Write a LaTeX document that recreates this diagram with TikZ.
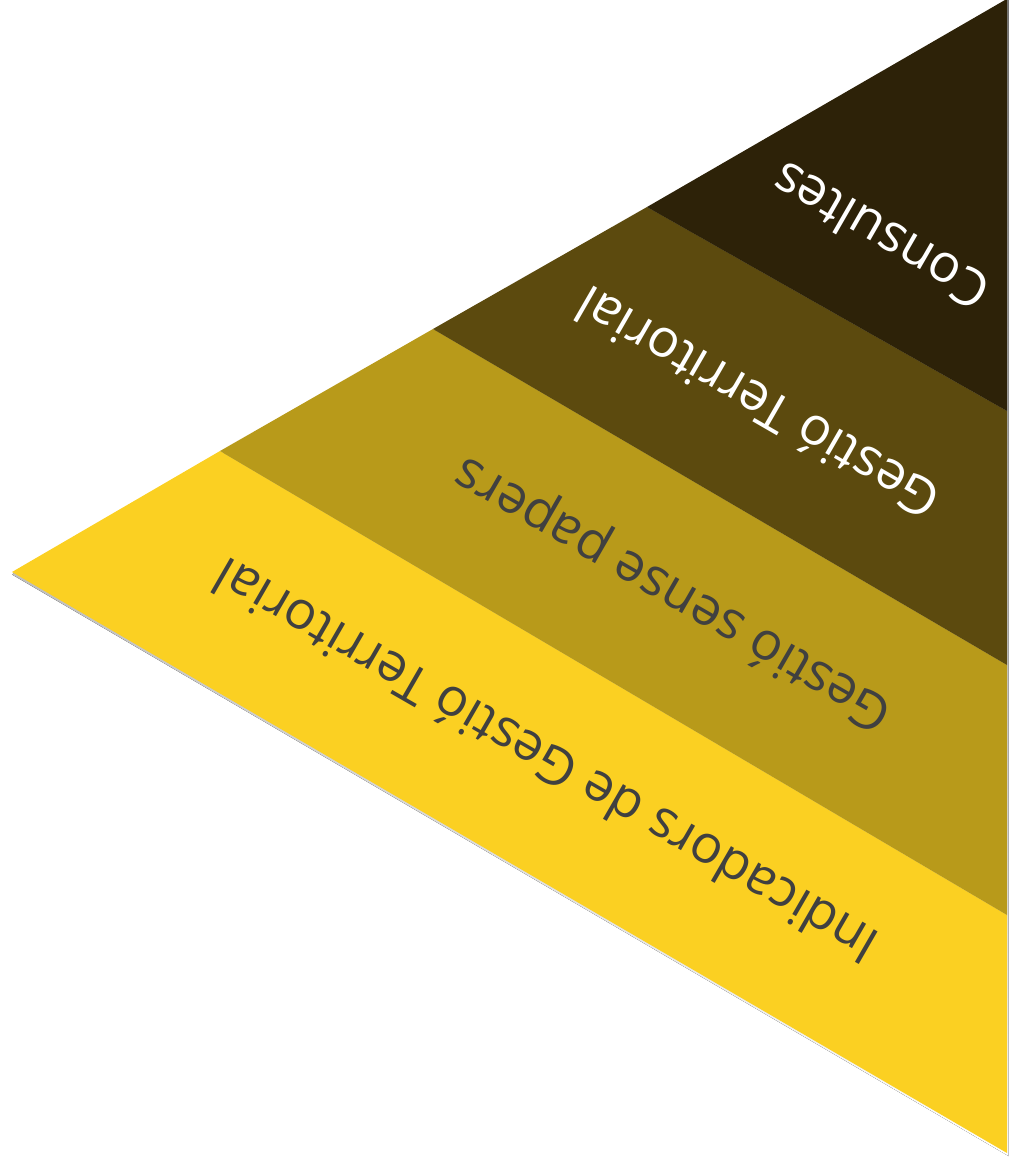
\documentclass[tikz,border=0pt]{standalone}
\usepackage{fontspec}
\setmainfont{Open Sans}
\usepackage{tikz}
\definecolor{bandA}{RGB}{251,208,34}
\definecolor{bandB}{RGB}{184,154,26}
\definecolor{bandC}{RGB}{92,74,14}
\definecolor{bandD}{RGB}{45,34,8}
\definecolor{ink}{RGB}{64,64,64}
\definecolor{shade}{RGB}{165,165,165}
\tikzset{
  band/.style={draw=none},
  lbl/.style={font=\fontsize{30}{36}\selectfont,rotate=150,inner sep=0pt},
}

\begin{document}
\begin{tikzpicture}[x=0.02cm,y=-0.02cm]
  \useasboundingbox (0,0) rectangle (1009,1164);
  % corners and band edges
  \coordinate (apex) at (12,572);
  \coordinate (top) at (1005,0);
  \coordinate (topR) at (1007,0);
  \coordinate (bot) at (1007,1153);
  \coordinate (p1) at (220,451);
  \coordinate (p2) at (433,329);
  \coordinate (p3) at (647,207);
  \coordinate (q1) at (1007,915);
  \coordinate (q2) at (1007,665);
  \coordinate (q3) at (1007,411);

  % shadow
  \fill[shade] ([shift={(0,2.5)}]apex) -- ([shift={(1.5,0)}]topR)
    -- ([shift={(1.5,3)}]bot) -- cycle;

  % bands
  \fill[band,bandA] (apex) -- (p1) -- (q1) -- (bot) -- cycle;
  \fill[band,bandB] (p1) -- (p2) -- (q2) -- (q1) -- cycle;
  \fill[band,bandC] (p2) -- (p3) -- (q3) -- (q2) -- cycle;
  \fill[band,bandD] (p3) -- (top) -- (topR) -- (q3) -- cycle;

  % labels
  \node[lbl,text=white] (cons) at (880,237) {Consultes};
  \node[lbl,text=white] (gterr) at (757,404) {Gestió Territorial};
  \node[lbl,text=ink] (gsp) at (674,592) {Gestió sense papers};
  \node[lbl,text=ink] (ind) at (545,762) {Indicadors de Gestió Territorial};
\end{tikzpicture}
\end{document}
